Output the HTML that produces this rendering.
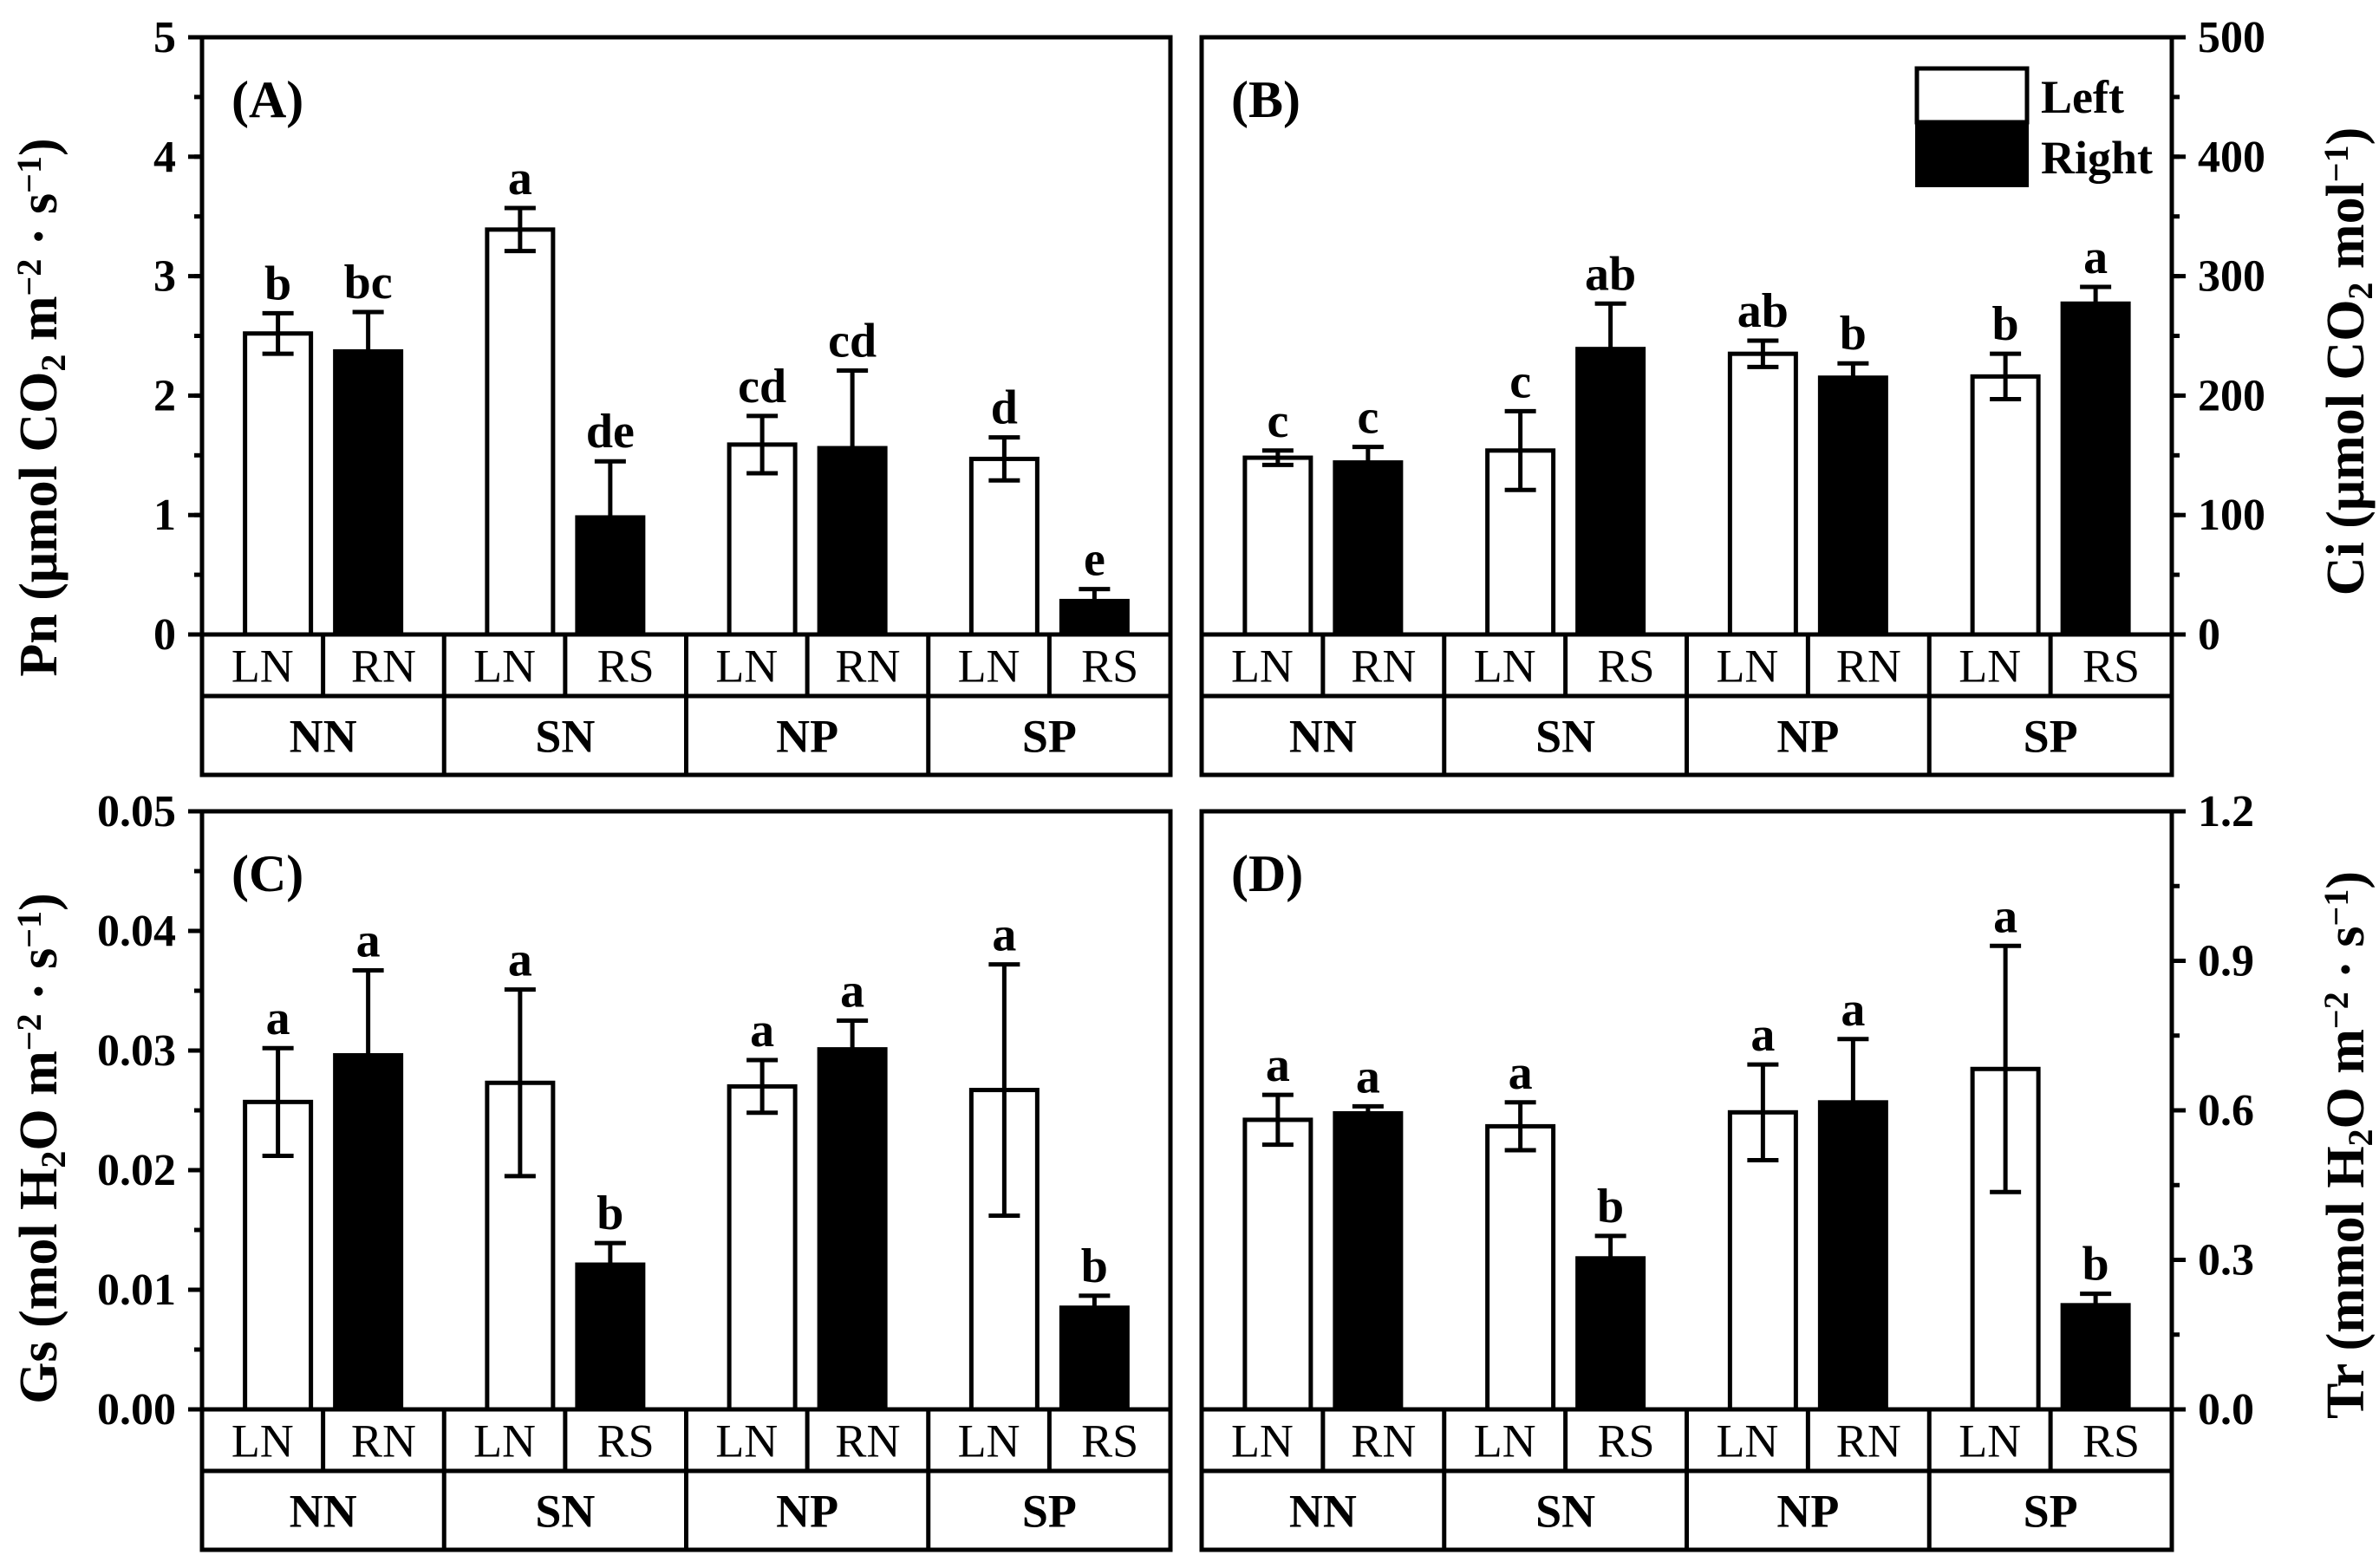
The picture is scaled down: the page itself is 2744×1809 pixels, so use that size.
<!DOCTYPE html>
<html><head><meta charset="utf-8"><style>
html,body{margin:0;padding:0;background:#fff;}
svg{display:block;}
text{font-family:"Liberation Serif",serif;fill:#000;}
</style></head><body>
<svg id="fig" width="2744" height="1809" viewBox="0 0 2744 1809" xmlns="http://www.w3.org/2000/svg"></svg>
<script>
const groups = ['NN','SN','NP','SP'];
const subLabels = ['LN','RN','LN','RS','LN','RN','LN','RS'];

const pnMeans = [2.52, 2.37, 3.39, 0.98, 1.59, 1.56, 1.47, 0.28];
const pnErrs = [0.17, 0.33, 0.18, 0.47, 0.24, 0.65, 0.18, 0.10];
const pnLetters = ['b','bc','a','de','cd','cd','d','e'];
const pnTicks = [0,1,2,3,4,5];
const pnTickLabels = ['0','1','2','3','4','5'];

const ciMeans = [148, 144, 154, 239, 235, 215, 216, 277];
const ciErrs = [6, 13, 33, 38, 11, 12, 19, 14];
const ciLetters = ['c','c','c','ab','ab','b','b','a'];
const ciTicks = [0,100,200,300,400,500];
const ciTickLabels = ['0','100','200','300','400','500'];

const gsMeans = [0.0257, 0.0296, 0.0273, 0.0121, 0.0270, 0.0301, 0.0267, 0.0085];
const gsErrs = [0.0045, 0.0071, 0.0078, 0.0018, 0.0022, 0.0024, 0.0105, 0.0010];
const gsLetters = ['a','a','a','b','a','a','a','b'];
const gsTicks = [0,0.01,0.02,0.03,0.04,0.05];
const gsTickLabels = ['0.00','0.01','0.02','0.03','0.04','0.05'];

const trMeans = [0.581, 0.594, 0.568, 0.303, 0.596, 0.616, 0.683, 0.209];
const trErrs = [0.050, 0.014, 0.048, 0.045, 0.096, 0.127, 0.247, 0.023];
const trLetters = ['a','a','a','b','a','a','a','b'];
const trTicks = [0,0.3,0.6,0.9,1.2];
const trTickLabels = ['0.0','0.3','0.6','0.9','1.2'];

const NS='http://www.w3.org/2000/svg';
const svg=document.getElementById('fig');
function mk(tag, attrs, parent){
  const e=document.createElementNS(NS,tag);
  for(const k in attrs) e.setAttribute(k, attrs[k]);
  (parent||svg).appendChild(e);
  return e;
}

function panel(cfg, means, errs, letters, ticks, tickLabels, minorStep){
  const g=mk('g',{});
  
  
  const yS = v => cfg.y0 - (v/cfg.max)*(cfg.y0-cfg.yT);
  const gw=(cfg.x1-cfg.x0)/4;
  const ax = cfg.side==='left'?cfg.x0:cfg.x1;
  const dir = cfg.side==='left'?-1:1;
  // bars
  means.forEach((m,i)=>{
    const gi=Math.floor(i/2);
    const cx=cfg.x0+gw*(gi+0.5)+(i%2?52:-52);
    const top=yS(m);
    const et=yS(m+errs[i]), eb=yS(Math.max(0,m-errs[i]));
    const eg=mk('g',{},g);
    
    
    mk('line',{x1:cx,y1:eb,x2:cx,y2:et,stroke:'#000','stroke-width':5},eg);
    mk('line',{x1:cx-18,y1:et,x2:cx+18,y2:et,stroke:'#000','stroke-width':5},eg);
    mk('line',{x1:cx-18,y1:eb,x2:cx+18,y2:eb,stroke:'#000','stroke-width':5},eg);
    const b=mk('rect',{x:cx-38,y:top,width:76,height:cfg.y0-top,fill:i%2?'#000':'#fff',stroke:'#000','stroke-width':5},g);
    
    
    if(i%2===0){ g.appendChild(eg); }
    const t=mk('text',{x:cx,y:et-16,'text-anchor':'middle','font-size':56,'font-weight':'bold'},g);
    
    
    t.textContent=letters[i];
  });
  // frame
  mk('rect',{x:cfg.x0,y:cfg.yT,width:cfg.x1-cfg.x0,height:cfg.yB-cfg.yT,fill:'none',stroke:'#000','stroke-width':5},g);
  mk('line',{x1:cfg.x0,y1:cfg.y0,x2:cfg.x1,y2:cfg.y0,stroke:'#000','stroke-width':5},g);
  mk('line',{x1:cfg.x0,y1:cfg.yR,x2:cfg.x1,y2:cfg.yR,stroke:'#000','stroke-width':5},g);
  for(let k=0;k<8;k++){
    const xs=cfg.x0+gw*k/2;
    if(k>0) mk('line',{x1:xs,y1:cfg.y0,x2:xs,y2:(k%2?cfg.yR:cfg.yB),stroke:'#000','stroke-width':5},g);
    const t=mk('text',{x:cfg.x0+gw*(k+0.5)/2,y:(cfg.y0+cfg.yR)/2+19,'text-anchor':'middle','font-size':54},g);
    
    
    t.textContent=subLabels[k];
  }
  groups.forEach((gn,k)=>{
    const t=mk('text',{x:cfg.x0+gw*(k+0.5),y:(cfg.yR+cfg.yB)/2+19,'text-anchor':'middle','font-size':54,'font-weight':'bold'},g);
    
    
    t.textContent=gn;
  });
  // ticks
  for(let v=0; v<=cfg.max+1e-9; v+=minorStep){
    const y=yS(v);
    mk('line',{x1:ax,y1:y,x2:ax+dir*9,y2:y,stroke:'#000','stroke-width':5},g);
  }
  ticks.forEach((v,i)=>{
    const y=yS(v);
    mk('line',{x1:ax,y1:y,x2:ax+dir*16,y2:y,stroke:'#000','stroke-width':5},g);
    const t=mk('text',{x:ax+dir*30,y:y+17,'text-anchor':cfg.side==='left'?'end':'start','font-size':52,'font-weight':'bold'},g);
    
    
    t.textContent=tickLabels[i];
  });
  const pl=mk('text',{x:cfg.x0+34,y:cfg.yT+92,'font-size':60,'font-weight':'bold'},g);
  
  
  pl.textContent=cfg.label;
  // axis title
  const tt=mk('text',{transform:'translate('+cfg.tx+','+cfg.ty+') rotate(-90)','text-anchor':'middle','font-size':62,'font-weight':'bold'},g);
  
  
  cfg.title.forEach(p=>{
    const s=mk('tspan',{},tt);
    if(p[1]==='sub'){s.setAttribute('baseline-shift','-25%');s.setAttribute('font-size','40');}
    if(p[1]==='sup'){s.setAttribute('baseline-shift','45%');s.setAttribute('font-size','40');}
    s.textContent=p[0];
  });
}

panel({name:'panel-a-pn',label:'(A)',x0:233,x1:1350,yT:43,y0:732,yR:803,yB:894,max:5,side:'left',tx:65,ty:470,
  title:[['Pn (μmol CO'],['2','sub'],[' m'],['−2','sup'],[' · s'],['−1','sup'],[')']]},
  pnMeans,pnErrs,pnLetters,pnTicks,pnTickLabels,0.5);
panel({name:'panel-b-ci',label:'(B)',x0:1386,x1:2505,yT:43,y0:732,yR:803,yB:894,max:500,side:'right',tx:2726,ty:417,
  title:[['Ci (μmol CO'],['2','sub'],[' mol'],['−1','sup'],[')']]},
  ciMeans,ciErrs,ciLetters,ciTicks,ciTickLabels,50);
panel({name:'panel-c-gs',label:'(C)',x0:233,x1:1350,yT:936,y0:1626,yR:1697,yB:1788,max:0.05,side:'left',tx:65,ty:1325,
  title:[['Gs (mol H'],['2','sub'],['O m'],['−2','sup'],[' · s'],['−1','sup'],[')']]},
  gsMeans,gsErrs,gsLetters,gsTicks,gsTickLabels,0.005);
panel({name:'panel-d-tr',label:'(D)',x0:1386,x1:2505,yT:936,y0:1626,yR:1697,yB:1788,max:1.2,side:'right',tx:2726,ty:1321,
  title:[['Tr (mmol H'],['2','sub'],['O m'],['−2','sup'],[' · s'],['−1','sup'],[')']]},
  trMeans,trErrs,trLetters,trTicks,trTickLabels,0.15);

// legend
const lg=mk('g',{});


mk('rect',{x:2211,y:79,width:127,height:62,fill:'#fff',stroke:'#000','stroke-width':5},lg);
mk('rect',{x:2209,y:141,width:131,height:75,fill:'#000'},lg);
const l1=mk('text',{x:2354,y:130,'font-size':54,'font-weight':'bold'},lg);


l1.textContent='Left';
const l2=mk('text',{x:2354,y:200,'font-size':54,'font-weight':'bold'},lg);


l2.textContent='Right';
</script>
</body></html>
